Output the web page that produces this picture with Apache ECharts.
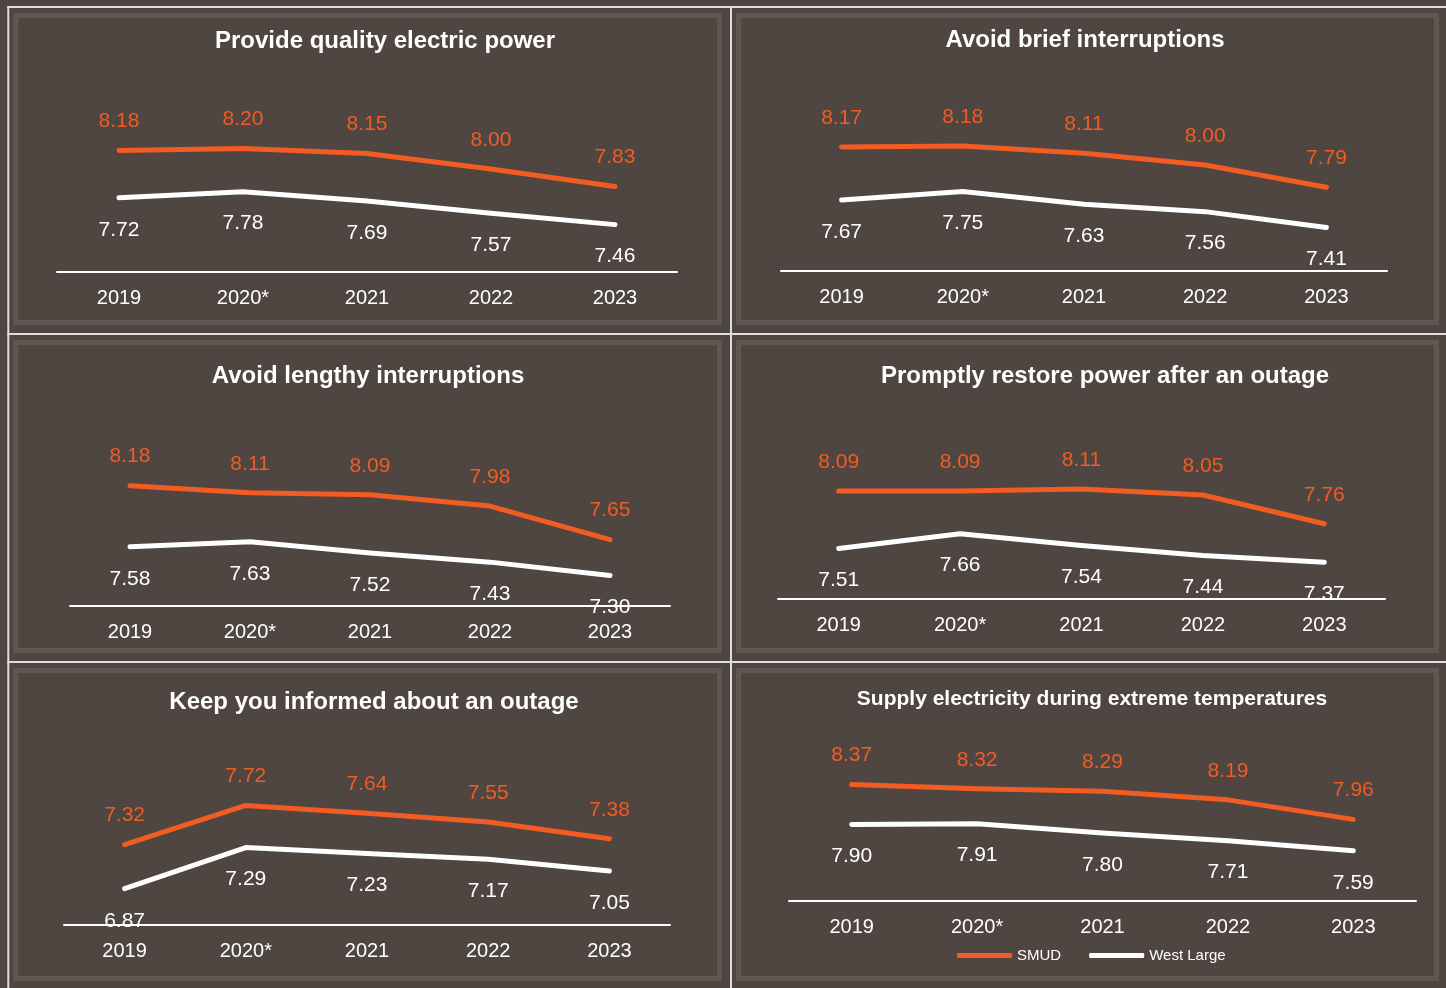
<!DOCTYPE html>
<html>
<head>
<meta charset="utf-8">
<title>SMUD vs West Large – reliability satisfaction</title>
<script src="https://cdn.jsdelivr.net/npm/echarts@6/dist/echarts.min.js"></script>
<style>
  html, body { margin: 0; padding: 0; background: #4f4541; }
  #chart { width: 1446px; height: 988px; }
</style>
</head>
<body>
<div id="chart"></div>
<script>
// ---- data ----
const categories = ['2019', '2020*', '2021', '2022', '2023'];

const panelTitles = [
  'Provide quality electric power',
  'Avoid brief interruptions',
  'Avoid lengthy interruptions',
  'Promptly restore power after an outage',
  'Keep you informed about an outage',
  'Supply electricity during extreme temperatures'
];

const smudQuality      = [8.18, 8.20, 8.15, 8.00, 7.83];
const westQuality      = [7.72, 7.78, 7.69, 7.57, 7.46];
const smudBrief        = [8.17, 8.18, 8.11, 8.00, 7.79];
const westBrief        = [7.67, 7.75, 7.63, 7.56, 7.41];
const smudLengthy      = [8.18, 8.11, 8.09, 7.98, 7.65];
const westLengthy      = [7.58, 7.63, 7.52, 7.43, 7.30];
const smudRestore      = [8.09, 8.09, 8.11, 8.05, 7.76];
const westRestore      = [7.51, 7.66, 7.54, 7.44, 7.37];
const smudInformed     = [7.32, 7.72, 7.64, 7.55, 7.38];
const westInformed     = [6.87, 7.29, 7.23, 7.17, 7.05];
const smudExtremeTemp  = [8.37, 8.32, 8.29, 8.19, 7.96];
const westExtremeTemp  = [7.90, 7.91, 7.80, 7.71, 7.59];

const smudSeries = [smudQuality, smudBrief, smudLengthy, smudRestore, smudInformed, smudExtremeTemp];
const westSeries = [westQuality, westBrief, westLengthy, westRestore, westInformed, westExtremeTemp];
const axisMin = [7, 7, 7, 7, 6.5, 7];
const axisMax = [9, 9, 9, 9, 8.5, 9];

// ---- layout ----
const ORANGE = '#f25c22';
const WHITE = '#ffffff';
const FONT = '"Liberation Sans", Arial, sans-serif';

// plot area of each panel (px)
const plotBoxes = [
  { left: 57,  top: 66,  width: 620, height: 206 },
  { left: 781, top: 59,  width: 606, height: 212 },
  { left: 70,  top: 402, width: 600, height: 204 },
  { left: 778, top: 401, width: 607, height: 198 },
  { left: 64,  top: 729, width: 606, height: 196 },
  { left: 789, top: 731, width: 627, height: 170 }
];
// title centres (px) and sizes
const titleSpots = [
  { x: 385,  y: 41,  size: 24 },
  { x: 1085, y: 40,  size: 24 },
  { x: 368,  y: 376, size: 24 },
  { x: 1105, y: 376, size: 24 },
  { x: 374,  y: 702, size: 24 },
  { x: 1092, y: 699, size: 21 }
];

// panel grid lines
const colX = [8.3, 731, 1448];
const rowY = [7, 334, 662, 990];

const graphics = [];
// panel bevels
for (let r = 0; r < 3; r++) {
  for (let c = 0; c < 2; c++) {
    const x0 = colX[c] + 5, y0 = rowY[r] + 6;
    const x1 = colX[c + 1] - 9, y1 = rowY[r + 1] - 9;
    graphics.push({
      type: 'rect', silent: true, z: 0,
      shape: { x: x0 + 2.5, y: y0 + 2.5, width: x1 - x0 - 5, height: y1 - y0 - 5 },
      style: { fill: null, stroke: '#605752', lineWidth: 5 }
    });
  }
}
// separating lines
colX.forEach(x => graphics.push({
  type: 'line', silent: true, z: 1,
  shape: { x1: x, y1: rowY[0] - 1, x2: x, y2: 990 },
  style: { stroke: '#dedede', lineWidth: 2 }
}));
rowY.forEach(y => graphics.push({
  type: 'line', silent: true, z: 1,
  shape: { x1: colX[0] - 1, y1: y, x2: 1448, y2: y },
  style: { stroke: '#dedede', lineWidth: 2 }
}));
// panel titles
panelTitles.forEach((t, i) => graphics.push({
  type: 'text', silent: true, z: 5,
  x: titleSpots[i].x, y: titleSpots[i].y,
  style: {
    text: t, fill: WHITE, align: 'center', verticalAlign: 'middle',
    font: 'bold ' + titleSpots[i].size + 'px ' + FONT
  }
}));

const grids = [], xAxes = [], yAxes = [], series = [];
plotBoxes.forEach((b, i) => {
  grids.push({ left: b.left, top: b.top, width: b.width, height: b.height, containLabel: false });
  xAxes.push({
    type: 'category', gridIndex: i, data: categories, boundaryGap: true,
    axisLine: { show: true, lineStyle: { color: WHITE, width: 2 } },
    axisTick: { show: false },
    axisLabel: { color: WHITE, fontSize: 20, fontFamily: FONT, margin: 16 },
    splitLine: { show: false }
  });
  yAxes.push({
    type: 'value', gridIndex: i, min: axisMin[i], max: axisMax[i], show: false,
    splitLine: { show: false }
  });
  const common = {
    type: 'line', xAxisIndex: i, yAxisIndex: i,
    symbol: 'circle', symbolSize: 1, showSymbol: true,
    animation: false, silent: true
  };
  series.push(Object.assign({}, common, {
    name: 'SMUD', data: smudSeries[i], z: 4,
    itemStyle: { color: ORANGE },
    lineStyle: { color: ORANGE, width: 5, cap: 'round', join: 'round' },
    label: {
      show: true, position: 'top', distance: 18, color: ORANGE,
      fontSize: 21, fontFamily: FONT, formatter: p => p.value.toFixed(2)
    }
  }));
  series.push(Object.assign({}, common, {
    name: 'West Large', data: westSeries[i], z: 3,
    itemStyle: { color: WHITE },
    lineStyle: { color: WHITE, width: 5, cap: 'round', join: 'round' },
    label: {
      show: true, position: 'bottom', distance: 21, color: WHITE,
      fontSize: 21, fontFamily: FONT, formatter: p => p.value.toFixed(2)
    }
  }));
});

const chart = echarts.init(document.getElementById('chart'), null, { renderer: 'canvas' });
chart.setOption({
  backgroundColor: '#4f4541',
  animation: false,
  graphic: graphics,
  grid: grids,
  xAxis: xAxes,
  yAxis: yAxes,
  legend: {
    data: ['SMUD', 'West Large'],
    left: 957, top: 948, padding: 0,
    icon: 'roundRect', itemWidth: 55, itemHeight: 5, itemGap: 28,
    textStyle: { color: WHITE, fontSize: 15, fontFamily: FONT },
    selectedMode: false
  },
  series: series
});
</script>
</body>
</html>
